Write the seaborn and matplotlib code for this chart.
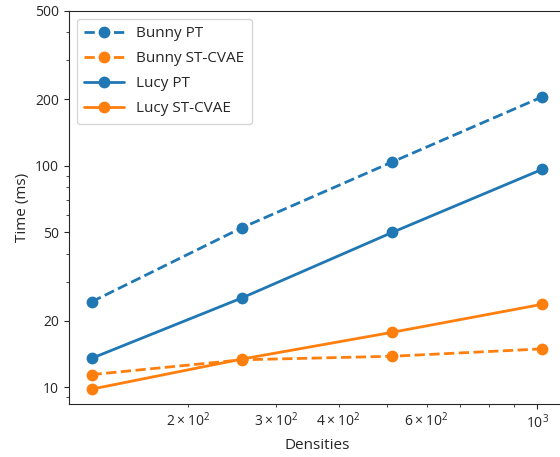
import matplotlib
matplotlib.use("Agg")
import matplotlib.pyplot as plt
import seaborn as sns
import pandas as pd
from matplotlib.ticker import FixedLocator, ScalarFormatter, NullFormatter
from matplotlib.lines import Line2D

densities = [128, 256, 512, 1024]
bunny_pt = [24.3, 52.5, 104, 205]
bunny_stcvae = [11.4, 13.3, 13.8, 14.9]
lucy_pt = [13.5, 25.3, 50, 96.5]
lucy_stcvae = [9.8, 13.4, 17.7, 23.7]
y_ticks = [10, 20, 50, 100, 200, 500]

sns.set_style("ticks")
plt.rcParams['font.family'] = ['Open Sans', 'DejaVu Sans']

fig = plt.figure(figsize=(5.6, 4.57), dpi=100)
ax = fig.add_axes([69/560, 53/457, 496/560, 393/457])

blue = "#1f77b4"
orange = "#ff7f0e"
series = [
    ("Bunny PT", bunny_pt, blue, "--"),
    ("Bunny ST-CVAE", bunny_stcvae, orange, "--"),
    ("Lucy PT", lucy_pt, blue, "-"),
    ("Lucy ST-CVAE", lucy_stcvae, orange, "-"),
]
handles = []
for name, vals, col, ls in series:
    df = pd.DataFrame({"Densities": densities, "Time (ms)": vals})
    sns.lineplot(data=df, x="Densities", y="Time (ms)", ax=ax, color=col,
                 linestyle=ls, marker="o", markersize=8.5, markeredgewidth=0,
                 linewidth=2, legend=False)
    handles.append(Line2D([], [], color=col, linestyle=ls, marker="o",
                          markersize=8.5, markeredgewidth=0, linewidth=2, label=name))

ax.set_xscale("log")
ax.set_yscale("log")
ax.set_ylim(8.4, 500)
ax.yaxis.set_major_locator(FixedLocator(y_ticks))
ax.yaxis.set_major_formatter(ScalarFormatter())
ax.yaxis.set_minor_formatter(NullFormatter())
ax.tick_params(labelsize=10)
ax.set_xlabel("Densities", fontsize=11)
ax.set_ylabel("Time (ms)", fontsize=11)
ax.legend(handles=handles, loc="upper left", fontsize=11, frameon=True,
          handlelength=2.6, borderpad=0.5, labelspacing=0.65)
fig.savefig("out.png", dpi=100)
